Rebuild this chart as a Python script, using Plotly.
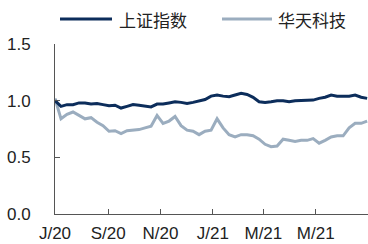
import pandas as pd
import plotly.graph_objects as go

series_names = ["上证指数", "华天科技"]
start_date = "2020-07-01"

shanghai = [1.00, 0.95, 0.965, 0.965, 0.98, 0.98, 0.97, 0.975, 0.965, 0.955,
            0.96, 0.935, 0.95, 0.965, 0.96, 0.953, 0.945, 0.97, 0.97, 0.98,
            0.99, 0.985, 0.975, 0.985, 1.00, 1.01, 1.04, 1.05, 1.04, 1.035,
            1.05, 1.065, 1.055, 1.03, 0.99, 0.985, 0.99, 1.00, 1.00, 0.99,
            1.00, 1.00, 1.00, 1.005, 1.02, 1.03, 1.05, 1.04, 1.04, 1.04,
            1.05, 1.03, 1.02]

huatian = [1.02, 0.84, 0.88, 0.90, 0.87, 0.84, 0.85, 0.81, 0.78, 0.73,
           0.735, 0.71, 0.735, 0.74, 0.745, 0.76, 0.775, 0.87, 0.80, 0.82,
           0.86, 0.78, 0.74, 0.73, 0.70, 0.73, 0.74, 0.84, 0.76, 0.70,
           0.68, 0.70, 0.70, 0.69, 0.66, 0.615, 0.594, 0.60, 0.66, 0.65,
           0.64, 0.65, 0.65, 0.665, 0.625, 0.65, 0.68, 0.69, 0.69, 0.76,
           0.80, 0.80, 0.82]

tick_dates = ["2020-07-01", "2020-09-01", "2020-11-01", "2021-01-01", "2021-03-01", "2021-05-01"]
tick_labels = ["J/20", "S/20", "N/20", "J/21", "M/21", "M/21"]
y_ticks = [0.0, 0.5, 1.0, 1.5]
y_labels = ["0.0", "0.5", "1.0", "1.5"]

colors = ["#0c2d5b", "#9badbf"]
dates = pd.date_range(start_date, periods=len(shanghai), freq="7D")

fig = go.Figure()
for name, vals, c in [(series_names[1], huatian, colors[1]), (series_names[0], shanghai, colors[0])]:
    fig.add_trace(go.Scatter(x=dates, y=vals, mode="lines", name=name,
                             line=dict(color=c, width=3), showlegend=False))

# custom legend
W, H = 313, 170
def px(x):
    return (x - 55) / W
def py(y):
    return (214 - y) / H

for (x0, x1, tx, name, c) in [(60, 112, 117, series_names[0], colors[0]),
                              (222, 272, 276, series_names[1], colors[1])]:
    fig.add_shape(type="line", xref="paper", yref="paper", x0=px(x0), x1=px(x1),
                  y0=py(19), y1=py(19), line=dict(color=c, width=3))
    fig.add_annotation(xref="paper", yref="paper", x=px(tx), y=py(19), text=name,
                       showarrow=False, xanchor="left", yanchor="middle",
                       font=dict(family="Noto Sans CJK SC", size=17, color="#222"))

fig.update_layout(
    width=368, height=244,
    margin=dict(l=55, r=0, t=44, b=30),
    paper_bgcolor="white", plot_bgcolor="white",
    font=dict(family="Liberation Sans, Arial", size=17, color="#222"),
    xaxis=dict(range=["2020-07-01", "2021-07-01"], tickmode="array",
               tickvals=tick_dates, ticktext=tick_labels, showgrid=False,
               showline=True, linecolor="#555", linewidth=1, ticks="inside",
               ticklen=5, tickcolor="#555", zeroline=False, ticklabelstandoff=4),
    yaxis=dict(range=[0, 1.5], tickmode="array", tickvals=y_ticks, ticktext=y_labels,
               showgrid=False, showline=True, linecolor="#555", linewidth=1,
               ticks="inside", ticklen=5, tickcolor="#555", zeroline=False,
               ticklabelstandoff=20),
)

fig.write_html("out.html", config={"displayModeBar": False},
               post_script="document.body.style.margin='0';document.body.style.overflow='hidden';")
